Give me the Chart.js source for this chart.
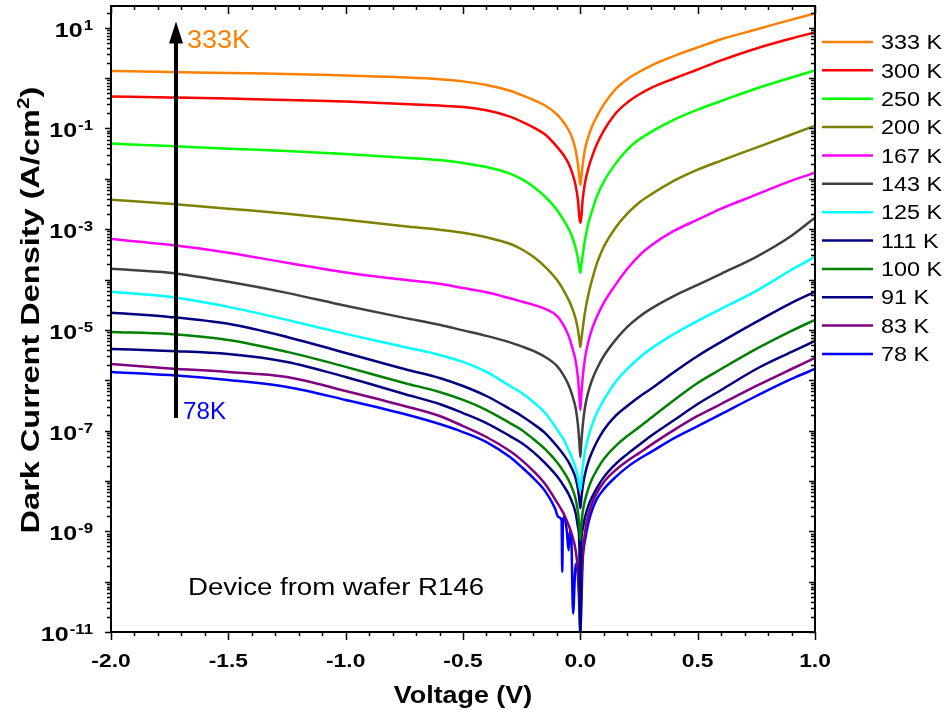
<!DOCTYPE html>
<html>
<head>
<meta charset="utf-8">
<title>Dark current density vs voltage</title>
<script src="https://cdn.jsdelivr.net/npm/chart.js@4.4.0/dist/chart.umd.min.js"></script>
<style>
  html, body { margin: 0; padding: 0; background: #fff; }
  canvas { display: block; }
</style>
</head>
<body>
<canvas id="chart" width="948" height="715"></canvas>
<script>
// -------------- DATA ------------------

const voltage = [-2.0, -1.75, -1.5, -1.25, -1.0, -0.75, -0.6, -0.5, -0.4, -0.3, -0.25, -0.2, -0.15, -0.1, -0.07, -0.05, -0.035, -0.02, -0.01, -0.004,
    0,
    0.004, 0.01, 0.02, 0.035, 0.05, 0.07, 0.1, 0.15, 0.2, 0.25, 0.3, 0.4, 0.5, 0.6, 0.75, 0.9, 1.0];

// dark current density, A/cm^2
const j333 = [1.38, 1.32, 1.26, 1.21, 1.12, 1.03, 0.95, 0.86, 0.73, 0.56, 0.46, 0.37, 0.285, 0.19, 0.13, 0.093, 0.065, 0.037, 0.019, 0.0105,
    0.0076,
    0.0105, 0.019, 0.039, 0.070, 0.11, 0.17, 0.30, 0.60, 0.95, 1.32, 1.75, 2.75, 4.06, 5.9, 9.25, 14.5, 19.2];
const j300 = [0.430, 0.411, 0.393, 0.366, 0.342, 0.305, 0.284, 0.266, 0.229, 0.172, 0.137, 0.105, 0.0755, 0.0436, 0.0290, 0.0200, 0.0132, 0.0074, 0.0037, 0.0017,
    0.00134,
    1.69e-3, 3.85e-3, 8.38e-3, 1.67e-2, 2.75e-2, 4.78e-2, 9.06e-2, 0.198, 0.327, 0.473, 0.635, 0.982, 1.48, 2.24, 3.87, 6.12, 8.07];
const j250 = [0.0500, 0.0446, 0.0397, 0.0355, 0.0309, 0.0263, 0.0235, 0.0205, 0.0171, 0.0127, 0.00984, 0.00698, 0.00442, 0.00243, 0.00147, 0.00102, 7.06e-4, 4.27e-4, 2.58e-4, 1.71e-4,
    1.36e-4,
    1.87e-4, 2.96e-4, 6.15e-4, 1.34e-3, 2.32e-3, 4.42e-3, 8.77e-3, 0.0200, 0.0380, 0.0600, 0.0847, 0.150, 0.237, 0.350, 0.621, 1.03, 1.42];
const j200 = [3.85e-3, 3.21e-3, 2.55e-3, 2.03e-3, 1.54e-3, 1.14e-3, 9.73e-4, 8.49e-4, 6.90e-4, 5.13e-4, 3.99e-4, 2.82e-4, 1.79e-4, 9.86e-5, 5.96e-5, 3.94e-5, 2.74e-5, 1.65e-5, 1.00e-5, 6.32e-6,
    4.59e-6,
    6.32e-6, 1.05e-5, 2.28e-5, 5.20e-5, 9.86e-5, 2.05e-4, 4.47e-4, 1.07e-3, 2.03e-3, 3.35e-3, 4.84e-3, 9.18e-3, 0.0152, 0.0230, 0.0416, 0.0759, 0.114];
const j167 = [6.35e-4, 4.90e-4, 3.40e-4, 2.15e-4, 1.38e-4, 9.86e-5, 8.22e-5, 6.75e-5, 5.56e-5, 4.23e-5, 3.65e-5, 3.14e-5, 2.61e-5, 1.90e-5, 1.20e-5, 7.59e-6, 4.58e-6, 2.42e-6, 1.11e-6, 4.86e-7,
    2.56e-7,
    4.86e-7, 1.11e-6, 2.77e-6, 6.04e-6, 1.05e-5, 1.81e-5, 3.44e-5, 7.83e-5, 1.63e-4, 2.96e-4, 4.68e-4, 9.31e-4, 1.54e-3, 2.55e-3, 4.84e-3, 9.18e-3, 1.32e-2];
const j143 = [1.63e-4, 1.36e-4, 8.99e-5, 5.43e-5, 3.00e-5, 1.73e-5, 1.26e-5, 9.77e-6, 7.59e-6, 5.64e-6, 4.69e-6, 3.82e-6, 2.90e-6, 1.92e-6, 1.22e-6, 8.05e-7, 5.09e-7, 2.81e-7, 1.29e-7, 5.66e-8,
    2.98e-8,
    5.66e-8, 1.23e-7, 2.94e-7, 6.12e-7, 1.01e-6, 1.67e-6, 3.03e-6, 6.32e-6, 1.15e-5, 1.81e-5, 2.61e-5, 4.74e-5, 7.83e-5, 1.30e-4, 2.82e-4, 7.40e-4, 1.69e-3];
const j125 = [5.69e-5, 4.53e-5, 2.86e-5, 1.58e-5, 8.32e-6, 4.58e-6, 3.18e-6, 2.31e-6, 1.46e-6, 7.69e-7, 5.58e-7, 3.70e-7, 2.23e-7, 1.07e-7, 6.49e-8, 4.10e-8, 2.84e-8, 1.80e-8, 1.14e-8, 7.89e-9,
    6.56e-9,
    9.46e-9, 1.88e-8, 3.92e-8, 7.78e-8, 1.29e-7, 2.23e-7, 4.06e-7, 9.25e-7, 1.67e-6, 2.77e-6, 4.19e-6, 8.32e-6, 1.51e-5, 2.61e-5, 5.96e-5, 1.56e-4, 2.82e-4];
const j111 = [2.18e-5, 1.81e-5, 1.32e-5, 7.24e-6, 3.48e-6, 1.67e-6, 1.11e-6, 7.69e-7, 4.86e-7, 2.68e-7, 1.95e-7, 1.35e-7, 8.93e-8, 4.93e-8, 3.27e-8, 2.37e-8, 1.72e-8, 1.14e-8, 6.87e-9, 4.16e-9,
    2.88e-9,
    4.35e-9, 7.53e-9, 1.37e-8, 2.48e-8, 3.74e-8, 5.92e-8, 1.03e-7, 1.95e-7, 3.08e-7, 4.65e-7, 6.70e-7, 1.46e-6, 3.03e-6, 5.77e-6, 1.44e-5, 3.44e-5, 5.69e-5];
const j100 = [9.12e-6, 8.32e-6, 6.32e-6, 3.65e-6, 1.84e-6, 8.83e-7, 5.85e-7, 4.06e-7, 2.56e-7, 1.41e-7, 1.03e-7, 6.79e-8, 4.30e-8, 2.37e-8, 1.50e-8, 1.04e-8, 7.19e-9, 4.35e-9, 2.39e-9, 1.26e-9,
    6.65e-10,
    1.26e-9, 2.39e-9, 4.16e-9, 7.19e-9, 1.09e-8, 1.64e-8, 2.72e-8, 4.93e-8, 7.78e-8, 1.17e-7, 1.77e-7, 4.06e-7, 8.83e-7, 1.67e-6, 4.19e-6, 9.55e-6, 1.58e-5];
const j91 = [4.19e-6, 3.82e-6, 3.33e-6, 2.31e-6, 1.16e-6, 5.33e-7, 3.37e-7, 2.23e-7, 1.41e-7, 7.78e-8, 5.65e-8, 3.74e-8, 2.26e-8, 1.25e-8, 7.89e-9, 5.47e-9, 3.79e-9, 2.29e-9, 1.21e-9, 5.30e-10,
    5e-12,
    5.30e-10, 1.10e-9, 1.91e-9, 3.30e-9, 4.77e-9, 7.19e-9, 1.19e-8, 2.16e-8, 3.41e-8, 5.15e-8, 7.78e-8, 1.62e-7, 3.37e-7, 6.40e-7, 1.67e-6, 3.65e-6, 6.04e-6];
const j83 = [2.10e-6, 1.71e-6, 1.46e-6, 1.16e-6, 6.11e-7, 3.08e-7, 1.95e-7, 1.23e-7, 7.45e-8, 3.92e-8, 2.59e-8, 1.57e-8, 8.65e-9, 3.79e-9, 2.19e-9, 1.32e-9, 8.36e-10, 4.21e-10, 1.68e-10, 6.15e-11,
    1.87e-11,
    8.48e-11, 3.20e-10, 9.59e-10, 2.19e-9, 3.62e-9, 5.73e-9, 9.46e-9, 1.64e-8, 2.48e-8, 3.57e-8, 5.15e-8, 1.03e-7, 1.95e-7, 3.37e-7, 7.69e-7, 1.67e-6, 2.77e-6];

// 78 K is noisy near zero bias, so it has its own sweep points
const voltage78 = [-2.0, -1.75, -1.5, -1.25, -1.0, -0.75, -0.6, -0.5, -0.4, -0.3, -0.25, -0.2, -0.15, -0.108,
    -0.094, -0.08, -0.077, -0.074, -0.068, -0.058, -0.05, -0.044, -0.038, -0.031, -0.022, -0.015, -0.007,
    0,
    0.01, 0.02, 0.035, 0.05, 0.07, 0.1, 0.15, 0.2, 0.25, 0.3, 0.4, 0.5, 0.6, 0.75, 0.9, 1.0];
const j78 = [1.46e-6, 1.27e-6, 1.01e-6, 7.35e-7, 4.06e-7, 2.13e-7, 1.35e-7, 9.35e-8, 5.92e-8, 2.98e-8, 1.88e-8, 1.14e-8, 6.27e-9, 2.88e-9,
    1.93e-9, 1.66e-9, 1.56e-10, 1.66e-9, 1.93e-9, 1.05e-9, 4.21e-10, 1.05e-9, 6.65e-10, 2.32e-11, 1.68e-10, 2.29e-10, 6.75e-11,
    1.08e-11,
    2.66e-10, 6.65e-10, 1.52e-9, 2.62e-9, 4.35e-9, 6.87e-9, 1.19e-8, 1.88e-8, 2.72e-8, 3.74e-8, 7.11e-8, 1.23e-7, 2.13e-7, 4.86e-7, 1.06e-6, 1.67e-6];

const temperatures = ["333 K", "300 K", "250 K", "200 K", "167 K", "143 K", "125 K", "111 K", "100 K", "91 K", "83 K", "78 K"];
const seriesX = [voltage, voltage, voltage, voltage, voltage, voltage, voltage, voltage, voltage, voltage, voltage, voltage78];
const seriesY = [j333, j300, j250, j200, j167, j143, j125, j111, j100, j91, j83, j78];
const colors = ["#FF8000", "#FF0000", "#00FF00", "#808000", "#FF00FF", "#404040",
    "#00FFFF", "#000080", "#008000", "#000080", "#800080", "#0000FF"];

const xTickLabels = [-2.0, -1.5, -1.0, -0.5, 0.0, 0.5, 1.0];
const yLabelExponents = [-11, -9, -7, -5, -3, -1, 1];


// -------------- HELPERS ------------------

const FONT = "'Liberation Sans', Arial, sans-serif";

// text drawn a little wider than the font, like the Origin export
function drawText(ctx, text, x, y, font, color, align, stretch) {
    ctx.save();
    ctx.font = font;
    const w = ctx.measureText(text).width * stretch;
    let left = x;
    if (align === "center") left = x - w / 2;
    if (align === "right") left = x - w;
    ctx.translate(left, y);
    ctx.scale(stretch, 1);
    ctx.fillStyle = color;
    ctx.textAlign = "left";
    ctx.textBaseline = "alphabetic";
    ctx.fillText(text, 0, 0);
    ctx.restore();
    return w;
}

function textWidth(ctx, text, font, stretch) {
    ctx.save();
    ctx.font = font;
    const w = ctx.measureText(text).width * stretch;
    ctx.restore();
    return w;
}


// -------------- PLUGINS ------------------

const axesFrame = {
    id: "axesFrame",
    afterDatasetsDraw(chart) {
        const { ctx, chartArea: a, scales: { x, y } } = chart;
        ctx.save();
        ctx.strokeStyle = "#000";
        ctx.lineWidth = 2;
        ctx.strokeRect(a.left, a.top, a.right - a.left, a.bottom - a.top);

        ctx.lineWidth = 1.5;
        ctx.beginPath();
        // voltage ticks: majors every 0.5, minors every 0.1
        for (let i = 0; i <= 30; i++) {
            const px = Math.round(x.getPixelForValue(-2 + i * 0.1)) + 0.5;
            const len = i % 5 === 0 ? 8 : 4;
            ctx.moveTo(px, a.bottom); ctx.lineTo(px, a.bottom + len);
            ctx.moveTo(px, a.top); ctx.lineTo(px, a.top + len);
        }
        // decade ticks plus 2..9 minors
        for (let e = -11; e <= 1; e++) {
            for (let k = 1; k <= 9; k++) {
                const v = k * Math.pow(10, e);
                if (v > y.max) break;
                const py = Math.round(y.getPixelForValue(v)) + 0.5;
                const len = k === 1 ? 6 : 4;
                ctx.moveTo(a.left, py); ctx.lineTo(a.left - len, py);
                ctx.moveTo(a.right, py); ctx.lineTo(a.right - len, py);
            }
        }
        ctx.stroke();

        const tickFont = "bold 19px " + FONT;
        xTickLabels.forEach(v => {
            drawText(ctx, v.toFixed(1), x.getPixelForValue(v), a.bottom + 35, tickFont, "#000", "center", 1.2);
        });

        const baseFont = "bold 20px " + FONT;
        const supFont = "bold 14px " + FONT;
        yLabelExponents.forEach(e => {
            const py = y.getPixelForValue(Math.pow(10, e));
            const sup = String(e);
            const supW = textWidth(ctx, sup, supFont, 1.2);
            const right = a.left - 18;
            drawText(ctx, sup, right, py + 2, supFont, "#000", "right", 1.2);
            drawText(ctx, "10", right - supW - 1, py + 9, baseFont, "#000", "right", 1.25);
        });

        // axis titles
        drawText(ctx, "Voltage (V)", (a.left + a.right) / 2, 703, "bold 24px " + FONT, "#000", "center", 1.12);

        const titleFont = "bold 25px " + FONT;
        const titleSup = "bold 16px " + FONT;
        const partA = "Dark Current Density (A/cm";
        const wA = textWidth(ctx, partA, titleFont, 1.3);
        const wS = textWidth(ctx, "2", titleSup, 1.3);
        const wB = textWidth(ctx, ")", titleFont, 1.3);
        ctx.save();
        ctx.translate(39, (a.top + a.bottom) / 2 - 9);
        ctx.rotate(-Math.PI / 2);
        const start = -(wA + wS + wB) / 2;
        drawText(ctx, partA, start, 0, titleFont, "#000", "left", 1.3);
        drawText(ctx, "2", start + wA, -10, titleSup, "#000", "left", 1.3);
        drawText(ctx, ")", start + wA + wS, 0, titleFont, "#000", "left", 1.3);
        ctx.restore();

        ctx.restore();
    },
};

const sideLegend = {
    id: "sideLegend",
    afterDraw(chart) {
        const { ctx, chartArea: a } = chart;
        ctx.save();
        temperatures.forEach((t, i) => {
            const cy = 42 + i * 28.36;
            ctx.strokeStyle = colors[i];
            ctx.lineWidth = 2.5;
            ctx.beginPath();
            ctx.moveTo(a.right + 7, cy);
            ctx.lineTo(a.right + 58, cy);
            ctx.stroke();
            drawText(ctx, t, a.right + 66, cy + 7.2, "20px " + FONT, "#000", "left", 1.17);
        });
        ctx.restore();
    },
};

// temperature arrow and captions, placed in data coordinates
const notes = {
    id: "notes",
    afterDraw(chart) {
        const { ctx, scales: { x, y } } = chart;
        const ax = x.getPixelForValue(-1.723);
        const y0 = y.getPixelForValue(1.77e-7);
        const y1 = y.getPixelForValue(13.3);
        ctx.save();
        ctx.strokeStyle = "#000";
        ctx.fillStyle = "#000";
        ctx.lineWidth = 4;
        ctx.beginPath();
        ctx.moveTo(ax, y0);
        ctx.lineTo(ax, y1 + 18);
        ctx.stroke();
        ctx.beginPath();
        ctx.moveTo(ax, y1);
        ctx.lineTo(ax - 7, y1 + 22);
        ctx.lineTo(ax + 7, y1 + 22);
        ctx.closePath();
        ctx.fill();
        ctx.restore();

        drawText(ctx, "333K", x.getPixelForValue(-1.676), y.getPixelForValue(4.0), "25px " + FONT, "#FF8000", "left", 1.08);
        drawText(ctx, "78K", x.getPixelForValue(-1.693), y.getPixelForValue(1.7e-7), "23px " + FONT, "#0000FF", "left", 1.05);
        drawText(ctx, "Device from wafer R146", x.getPixelForValue(-1.672), y.getPixelForValue(5.4e-11),
            "23px " + FONT, "#000", "left", 1.2);
    },
};


// ------------ CREATE CHART ------------------

const datasets = temperatures.map((t, i) => ({
    label: t,
    data: seriesX[i].map((v, k) => ({ x: v, y: seriesY[i][k] })),
    borderColor: colors[i],
    backgroundColor: colors[i],
    borderWidth: 2.5,
    pointRadius: 0,
    cubicInterpolationMode: "monotone",
    fill: false,
}));

new Chart(document.getElementById("chart"), {
    type: "line",
    data: { datasets },
    options: {
        responsive: false,
        animation: false,
        layout: { padding: { left: 111, right: 133, top: 6, bottom: 83 } },
        scales: {
            x: { type: "linear", min: -2, max: 1, display: false },
            y: { type: "logarithmic", min: 1e-11, max: 27, display: false },
        },
        plugins: {
            legend: { display: false },
            tooltip: { enabled: false },
        },
    },
    plugins: [axesFrame, sideLegend, notes],
});
</script>
</body>
</html>
